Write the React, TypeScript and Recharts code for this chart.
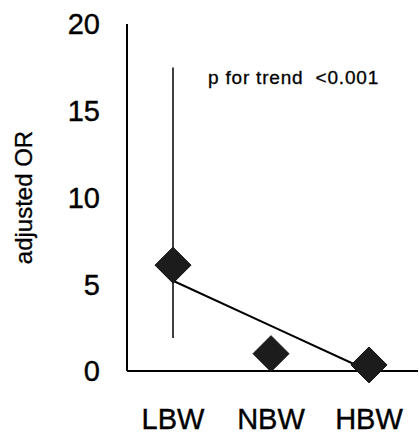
import { ComposedChart, Line, XAxis, YAxis, ErrorBar } from 'recharts'

// birth weight groups
const categories = ['LBW', 'NBW', 'HBW']
// adjusted odds ratio point estimates
const orValues = [6.1, 1.0, 0.35]
// 95% CI bounds (only LBW is visible outside the marker)
const ciLow = [1.9, 1.0, 0.35]
const ciHigh = [17.5, 1.0, 0.35]
// fitted trend line
const trendValues = [5.2, 2.6, 0.0]
const yTicks = [0, 5, 10, 15, 20]

const data = categories.map((cat, i) => ({
  cat,
  or: orValues[i],
  trend: trendValues[i],
  err: [orValues[i] - ciLow[i], ciHigh[i] - orValues[i]],
}))

const FONT = 'Arial, "Liberation Sans", Helvetica, sans-serif'

function Diamond(props: any) {
  const { cx, cy, index } = props
  if (cx == null || cy == null) return null
  const w = 18
  const h = 18
  return (
    <polygon
      key={`d-${index}`}
      points={`${cx},${cy - h} ${cx + w},${cy} ${cx},${cy + h} ${cx - w},${cy}`}
      fill="#1c1c1c"
      stroke="#111"
      strokeWidth={1}
    />
  )
}

export default function App() {
  return (
    <div style={{ position: 'absolute', left: 0, top: 0, width: 419, height: 438, background: '#fff', fontFamily: FONT }}>
      <ComposedChart
        width={419}
        height={438}
        data={data}
        margin={{ top: 24, right: 1, bottom: 0, left: 0 }}
      >
        <XAxis
          dataKey="cat"
          height={67}
          padding={{ left: 46, right: 49 }}
          tickLine={false}
          tickMargin={31}
          axisLine={{ stroke: '#000', strokeWidth: 2 }}
          tick={{ fill: '#000', fontSize: 29, fontFamily: FONT, stroke: '#000', strokeWidth: 0.4 }}
        />
        <YAxis
          width={127}
          domain={[0, 20]}
          ticks={yTicks}
          tickLine={false}
          tickMargin={21}
          axisLine={{ stroke: '#000', strokeWidth: 2 }}
          tick={{ fill: '#000', fontSize: 29, fontFamily: FONT, stroke: '#000', strokeWidth: 0.4 }}
          label={{
            value: 'adjusted OR',
            angle: -90,
            position: 'insideLeft',
            offset: 23,
            style: { textAnchor: 'middle', fill: '#000', fontSize: 24, fontFamily: FONT, stroke: '#000', strokeWidth: 0.3 },
          }}
        />
        <Line
          dataKey="trend"
          type="linear"
          stroke="#000"
          strokeWidth={2}
          dot={false}
          activeDot={false}
          isAnimationActive={false}
        />
        <Line
          dataKey="or"
          type="linear"
          stroke="none"
          strokeWidth={0}
          dot={<Diamond />}
          activeDot={false}
          isAnimationActive={false}
        >
          <ErrorBar dataKey="err" width={0} stroke="#000" strokeWidth={1.5} direction="y" isAnimationActive={false} />
        </Line>
      </ComposedChart>
      <div
        style={{
          position: 'absolute',
          left: 208,
          top: 68,
          fontSize: 19,
          lineHeight: '19px',
          letterSpacing: 0.8,
          whiteSpace: 'pre',
          color: '#000',
          WebkitTextStroke: '0.3px #000',
        }}
      >
        {'p for trend  <0.001'}
      </div>
    </div>
  )
}
